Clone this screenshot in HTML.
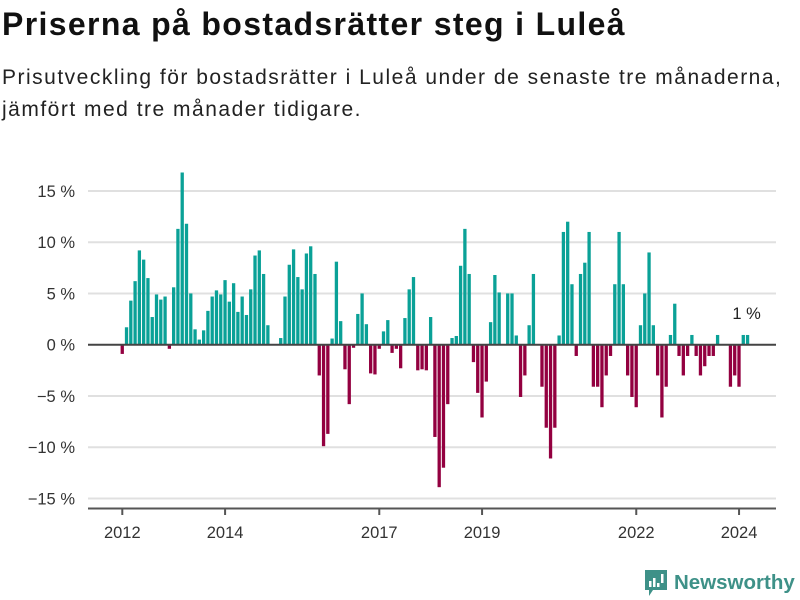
<!DOCTYPE html>
<html><head><meta charset="utf-8"><style>
body{margin:0;background:#fff;font-family:"Liberation Sans",sans-serif;}
#wrap{position:relative;width:800px;height:600px;overflow:hidden;}
h1{position:absolute;left:2px;top:6px;margin:0;font-size:32px;font-weight:bold;color:#111;letter-spacing:1.35px;white-space:nowrap;}
.sub{position:absolute;left:2px;top:62px;margin:0;font-size:21px;line-height:32px;color:#222;letter-spacing:1.5px;white-space:nowrap;}
</style></head><body>
<div id="wrap">
<h1>Priserna på bostadsrätter steg i Luleå</h1>
<p class="sub">Prisutveckling för bostadsrätter i Luleå under de senaste tre månaderna,<br>jämfört med tre månader tidigare.</p>
<svg id="chart" width="800" height="600" style="position:absolute;left:0;top:0"></svg>
</div>
<script>
const values = [-0.9,1.7,4.3,6.2,9.2,8.3,6.5,2.7,4.9,4.4,4.7,-0.4,5.6,11.3,16.8,11.8,5.0,1.5,0.5,1.4,3.3,4.7,5.3,4.9,6.3,4.2,6.0,3.2,4.7,2.9,5.4,8.7,9.2,6.9,1.9,0,0,
0.65,4.7,7.8,9.3,6.6,5.4,8.9,9.6,6.9,-3.0,-9.9,-8.7,0.6,8.1,2.3,-2.4,-5.8,-0.3,3.0,5.0,2.0,-2.8,-2.9,-0.4,1.3,2.4,-0.8,-0.4,-2.3,2.6,5.4,6.6,-2.5,-2.4,-2.5,2.7,-9.0,-13.9,-12.0,-5.8,
0.65,0.85,7.7,11.3,6.9,-1.7,-4.7,-7.1,-3.6,2.2,6.8,5.1,0,5.0,5.0,0.9,-5.1,-3.0,1.9,6.9,0,-4.1,-8.1,-11.1,-8.1,0.9,11.0,12.0,5.9,-1.1,6.9,8.0,11.0,-4.1,-4.1,-6.1,-3.0,-1.1,5.9,11.0,5.9,-3.0,-5.1,-6.1,1.9,
5.0,9.0,1.9,-3.0,-7.1,-4.1,0.95,4.0,-1.1,-3.0,-1.1,0.95,-1.1,-3.0,-2.1,-1.1,-1.1,0.95,0,0,-4.1,-3.0,-4.1,0.95,0.95];
const yTicks = [15,10,5,0,-5,-10,-15];
const yTickLabels = ["15 %","10 %","5 %","0 %","−5 %","−10 %","−15 %"];
const xTickYears = [2012,2014,2017,2019,2022,2024];
const startYear = 2012;
const lastLabel = "1 %";

const svg = document.getElementById('chart');
const NS = 'http://www.w3.org/2000/svg';
const y = v => 344.7 - v * 10.25;
const x = m => 122.3 + m * 4.283;
function mk(tag, attrs){const e=document.createElementNS(NS,tag);for(const k in attrs)e.setAttribute(k,attrs[k]);svg.appendChild(e);return e;}

yTicks.forEach((t,i)=>{
  if(t!==0){const g=mk('line',{x1:88,x2:776,y1:y(t),y2:y(t),stroke:'#e0e0e0','stroke-width':2});
  
  }
  const tx=mk('text',{x:75,y:y(t)+6,'text-anchor':'end','font-size':16.5,fill:'#333','font-family':'Liberation Sans, sans-serif'});
  tx.textContent=yTickLabels[i];
  
  
});
values.forEach((v,m)=>{
  if(v===0)return;
  const b=mk('rect',{x:x(m)-1.7,width:3.3,y:Math.min(y(v),y(0)),height:Math.abs(y(v)-y(0)),fill:v>0?'#0aa197':'#930040'});
  
  
});
const zl=mk('line',{x1:88,x2:776,y1:y(0),y2:y(0),stroke:'#444','stroke-width':2});


const ax=mk('line',{x1:88,x2:776,y1:508.5,y2:508.5,stroke:'#555','stroke-width':2});


xTickYears.forEach(yr=>{
  const px=x((yr-startYear)*12);
  const tk=mk('line',{x1:px,x2:px,y1:508,y2:515,stroke:'#555','stroke-width':2});
  
  
  const tl=mk('text',{x:px,y:538,'text-anchor':'middle','font-size':16.5,fill:'#333','font-family':'Liberation Sans, sans-serif'});
  tl.textContent=yr;
  
  
});
const ll=mk('text',{x:x(values.length-1)-1,y:319,'text-anchor':'middle','font-size':16.5,fill:'#222','font-family':'Liberation Sans, sans-serif'});
ll.textContent=lastLabel;


</script>
<div style="position:absolute;left:644px;top:569px;display:flex;align-items:center;">
<svg width="24" height="28" viewBox="0 0 24 28"><path d="M1 1h22v20H9l-4 6v-6H1z" fill="#3e9188"/><rect x="5" y="12" width="2.5" height="6" fill="#fff"/><rect x="9" y="9" width="2.5" height="9" fill="#fff"/><rect x="13" y="14" width="2.5" height="4" fill="#fff"/><rect x="17" y="5" width="2.5" height="9" fill="#fff"/></svg>
<span style="margin-left:6px;font-size:20.5px;font-weight:bold;color:#3e9188;">Newsworthy</span>
</div>
</body></html>
